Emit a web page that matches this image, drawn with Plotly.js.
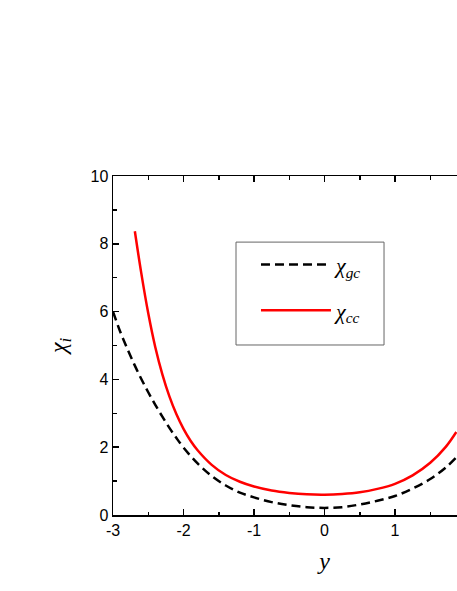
<!DOCTYPE html>
<html>
<head>
<meta charset="utf-8">
<script src="https://cdn.plot.ly/plotly-3.0.1.min.js"></script>
<style>
html, body { margin: 0; padding: 0; overflow: hidden; background: #fff; }
#chart { width: 600px; height: 591px; }
</style>
</head>
<body>
<div id="chart"></div>
<script>
// chi_gc (black dashed)
var gcX = [-3.0, -2.9, -2.8, -2.7, -2.6, -2.5, -2.4, -2.3, -2.2, -2.1, -2.0, -1.8, -1.6, -1.4, -1.2, -1.0, -0.75, -0.5, -0.25, 0, 0.25, 0.5, 0.75, 1.0, 1.25, 1.5, 1.72, 1.87];
var gcY = [6.0, 5.42, 4.92, 4.45, 4.02, 3.62, 3.25, 2.90, 2.57, 2.27, 1.99, 1.52, 1.15, 0.87, 0.66, 0.52, 0.38, 0.29, 0.23, 0.21, 0.23, 0.31, 0.42, 0.56, 0.78, 1.06, 1.40, 1.70];
// chi_cc (red solid)
var ccX = [-2.69, -2.6, -2.5, -2.4, -2.3, -2.2, -2.1, -2.0, -1.9, -1.8, -1.6, -1.4, -1.2, -1.0, -0.75, -0.5, -0.25, 0, 0.25, 0.5, 0.75, 1.0, 1.25, 1.5, 1.72, 1.87];
var ccY = [8.37, 7.15, 5.95, 4.95, 4.15, 3.50, 2.97, 2.54, 2.19, 1.91, 1.48, 1.18, 0.98, 0.84, 0.72, 0.65, 0.61, 0.60, 0.62, 0.67, 0.77, 0.92, 1.17, 1.54, 2.01, 2.45];

var names = ['<i>χ</i><sub><i>gc</i></sub>', '<i>χ</i><sub><i>cc</i></sub>'];
var xTicks = [-3, -2, -1, 0, 1];
var yTicks = [0, 2, 4, 6, 8, 10];

var traces = [
  {x: gcX, y: gcY, type: 'scatter', mode: 'lines', name: names[0], legendgroup: 'a',
   line: {color: '#000000', width: 2.5, dash: '9px,5px', shape: 'spline', smoothing: 1}},
  {x: ccX, y: ccY, type: 'scatter', mode: 'lines', name: names[1], legendgroup: 'b',
   line: {color: '#ff0000', width: 2.5, shape: 'spline', smoothing: 1}}
];

var axisCommon = {
  showline: true, linecolor: '#000', linewidth: 1.5, mirror: 'ticks',
  ticks: 'inside', ticklen: 6, tickwidth: 1.5, tickcolor: '#000',
  showgrid: false, zeroline: false,
  tickfont: {family: 'Liberation Sans, Arial, sans-serif', size: 16, color: '#000'}
};

var layout = {
  width: 600, height: 591,
  margin: {l: 113, r: 64, t: 176, b: 76},
  paper_bgcolor: '#fff', plot_bgcolor: '#fff',
  showlegend: true,
  xaxis: Object.assign({}, axisCommon, {
    range: [-3, 3], tickvals: xTicks, ticktext: xTicks.map(String),
    minor: {ticks: 'inside', ticklen: 3.5, tickwidth: 1.5, tickcolor: '#000', dtick: 0.5, tick0: 0},
    title: {text: '<i>y</i>', font: {family: 'Liberation Serif, Times New Roman, serif', size: 24, color: '#000'}, standoff: 14}
  }),
  yaxis: Object.assign({}, axisCommon, {
    range: [0, 10], tickvals: yTicks, ticktext: yTicks.map(String),
    minor: {ticks: 'inside', ticklen: 3.5, tickwidth: 1.5, tickcolor: '#000', dtick: 1, tick0: 0},
    title: {text: '<i>χ</i><sub><i>i</i></sub>', font: {family: 'Liberation Serif, Times New Roman, serif', size: 24, color: '#000'}, standoff: 17}
  }),
  shapes: [
    {type: 'rect', xref: 'paper', yref: 'paper', x0: 0.2908, x1: 0.6407, y0: 0.5015, y1: 0.805,
     line: {color: '#666', width: 1}, fillcolor: 'rgba(0,0,0,0)', layer: 'below'}
  ],
  legend: {
    x: 0.338, y: 0.80, xanchor: 'left', yanchor: 'top',
    bgcolor: 'rgba(0,0,0,0)', borderwidth: 0,
    traceorder: 'grouped', tracegroupgap: 14, itemwidth: 70,
    font: {family: 'Liberation Serif, Times New Roman, serif', size: 22, color: '#000'}
  }
};

Plotly.newPlot('chart', traces, layout, {displayModeBar: false, staticPlot: true});
</script>
</body>
</html>
